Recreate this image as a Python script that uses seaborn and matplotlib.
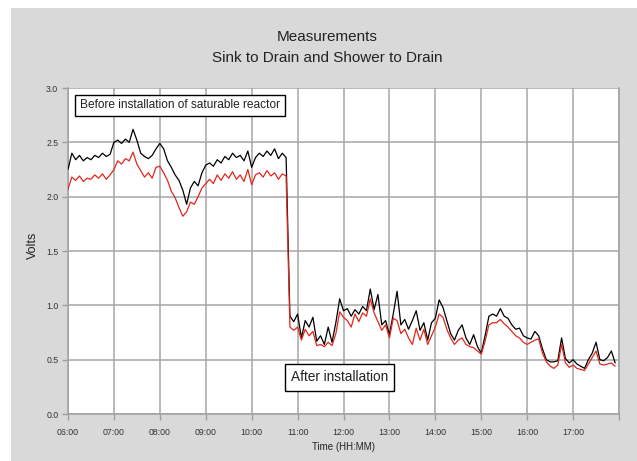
import pandas as pd
import matplotlib
matplotlib.use("Agg")
import matplotlib.pyplot as plt
import seaborn as sns
from matplotlib.patches import Rectangle

# readings every 5 minutes, 06:00 to 17:55
start_time = "06:00"
step_minutes = 5

# sink to drain (black) and shower to drain (red), volts
sink_volts = [
    2.25, 2.40, 2.34, 2.38, 2.33, 2.36, 2.34, 2.38, 2.36, 2.40, 2.37, 2.39,
    2.50, 2.52, 2.49, 2.53, 2.50, 2.62, 2.52, 2.40, 2.37, 2.35, 2.38, 2.44,
    2.49, 2.44, 2.33, 2.27, 2.20, 2.15, 2.06, 1.93, 2.08, 2.14, 2.10, 2.22,
    2.29, 2.31, 2.28, 2.34, 2.31, 2.37, 2.34, 2.40, 2.36, 2.38, 2.33, 2.42,
    2.27, 2.36, 2.40, 2.37, 2.42, 2.38, 2.44, 2.35, 2.40, 2.36,
    0.90, 0.85, 0.92, 0.70, 0.86, 0.80, 0.89, 0.67, 0.72, 0.64, 0.80, 0.66,
    0.84, 1.06, 0.95, 0.97, 0.90, 0.96, 0.92, 0.99, 0.95, 1.15, 0.96, 1.10,
    0.82, 0.86, 0.73, 0.92, 1.13, 0.82, 0.87, 0.78, 0.86, 0.95, 0.77, 0.84,
    0.68, 0.84, 0.88, 1.05, 0.98, 0.86, 0.74, 0.68, 0.77, 0.82, 0.70, 0.64,
    0.73, 0.62, 0.56, 0.72, 0.90, 0.92, 0.90, 0.97, 0.90, 0.88, 0.82, 0.78,
    0.79, 0.72, 0.70, 0.69, 0.76, 0.72, 0.60, 0.50, 0.48, 0.48, 0.49, 0.70,
    0.51, 0.47, 0.50, 0.46, 0.44, 0.42, 0.50, 0.56, 0.66, 0.50, 0.49, 0.52,
    0.58, 0.47,
]
shower_volts = [
    2.07, 2.18, 2.15, 2.19, 2.14, 2.17, 2.16, 2.20, 2.17, 2.21, 2.16, 2.20,
    2.25, 2.33, 2.30, 2.35, 2.33, 2.41, 2.30, 2.24, 2.18, 2.22, 2.17, 2.27,
    2.28, 2.22, 2.15, 2.05, 1.99, 1.90, 1.82, 1.86, 1.95, 1.93, 2.00, 2.08,
    2.12, 2.16, 2.12, 2.20, 2.15, 2.21, 2.17, 2.23, 2.16, 2.20, 2.14, 2.25,
    2.11, 2.20, 2.22, 2.18, 2.24, 2.19, 2.22, 2.16, 2.21, 2.19,
    0.80, 0.77, 0.80, 0.68, 0.78, 0.72, 0.76, 0.63, 0.64, 0.62, 0.66, 0.63,
    0.74, 0.94, 0.89, 0.86, 0.80, 0.92, 0.85, 0.93, 0.90, 1.06, 0.93, 0.85,
    0.77, 0.82, 0.70, 0.88, 0.86, 0.74, 0.78, 0.70, 0.64, 0.79, 0.68, 0.78,
    0.64, 0.72, 0.80, 0.92, 0.89, 0.78, 0.70, 0.64, 0.68, 0.70, 0.64, 0.62,
    0.61, 0.58, 0.55, 0.67, 0.82, 0.84, 0.84, 0.87, 0.83, 0.80, 0.76, 0.72,
    0.70, 0.66, 0.64, 0.66, 0.68, 0.69, 0.56, 0.48, 0.44, 0.42, 0.45, 0.64,
    0.47, 0.43, 0.45, 0.42, 0.41, 0.40, 0.46, 0.52, 0.58, 0.46, 0.45, 0.46,
    0.47, 0.44,
]

hour_ticks = list(range(6, 19))
hour_labels = ["06:00", "07:00", "08:00", "09:00", "10:00", "11:00", "12:00",
               "13:00", "14:00", "15:00", "16:00", "17:00", ""]
volt_ticks = [0.0, 0.5, 1.0, 1.5, 2.0, 2.5, 3.0]

times = pd.date_range(start_time, periods=len(sink_volts), freq=f"{step_minutes}min")
hours = times.hour + times.minute / 60.0

df = pd.concat([
    pd.DataFrame({"hour": hours, "volts": sink_volts, "series": "Sink to Drain"}),
    pd.DataFrame({"hour": hours, "volts": shower_volts, "series": "Shower to Drain"}),
])

sns.set_theme(style="white")
plt.rcParams["font.family"] = ["Liberation Sans", "DejaVu Sans"]

fig = plt.figure(figsize=(6.37, 4.61), dpi=100, facecolor="white")
fig.patches.append(Rectangle((11 / 637, 0), 1, 1 - 8 / 461, transform=fig.transFigure,
                             facecolor="#d9d9d9", edgecolor="none", zorder=-10))
ax = fig.add_axes([68 / 637, 47 / 461, 551 / 637, 326 / 461])
ax.set_facecolor("white")

sns.lineplot(data=df, x="hour", y="volts", hue="series", estimator=None,
             palette={"Sink to Drain": "black", "Shower to Drain": "#e3261b"},
             linewidth=0.9, legend=False, ax=ax, zorder=3)

ax.set_xlim(6, 18)
ax.set_ylim(0, 3)
ax.set_xticks(hour_ticks)
ax.set_xticklabels(hour_labels)
ax.set_yticks(volt_ticks)
ax.set_yticklabels([f"{v:.1f}" for v in volt_ticks])
ax.grid(True, color="#a6a6a6", linewidth=1.1)
ax.tick_params(axis="both", labelsize=6.3, labelcolor="#333333", color="#a0a0a0",
               length=4, width=1, direction="out", bottom=True, left=True)
ax.tick_params(axis="x", pad=6)
ax.tick_params(axis="y", pad=3)
for side in ["left", "bottom", "right"]:
    ax.spines[side].set_color("#a0a0a0")
    ax.spines[side].set_linewidth(1.1)
ax.spines["top"].set_visible(False)

ax.set_xlabel("")
ax.set_ylabel("")
fig.text(33 / 637, 1 - 245 / 461, "Volts", rotation=90, ha="center", va="center",
         fontsize=9, color="#222222")
fig.text(343 / 637, 1 - 447 / 461, "Time (HH:MM)", ha="center", va="center",
         fontsize=7, color="#222222")
fig.text(327 / 637, 1 - 47.5 / 461, "Measurements\nSink to Drain and Shower to Drain",
         ha="center", va="center", fontsize=11, linespacing=1.6, color="#222222")

ax.text(6.26, 2.84, "Before installation of saturable reactor", fontsize=8.6,
        ha="left", va="center", color="#222222", zorder=5,
        bbox=dict(boxstyle="square,pad=0.4", facecolor="white", edgecolor="black",
                  linewidth=1))
ax.text(11.915, 0.337, "After installation", fontsize=9.8, ha="center", va="center",
        color="#222222", zorder=5,
        bbox=dict(boxstyle="square,pad=0.45", facecolor="white", edgecolor="black",
                  linewidth=1))

fig.savefig("out.png", dpi=100, facecolor=fig.get_facecolor())
